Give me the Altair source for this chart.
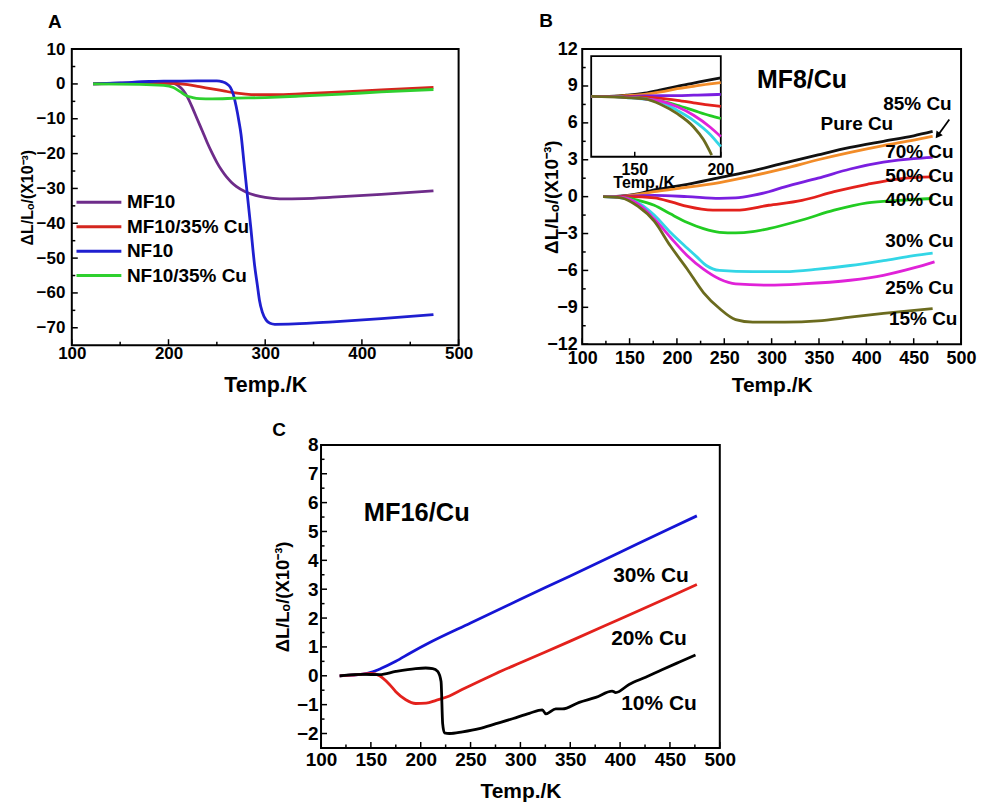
import altair as alt
import pandas as pd

FONT = "Liberation Sans"
YTITLE = "ΔL/Lₒ/(X10⁻³)"
XTITLE = "Temp./K"
LW = 2.8

# ---------------- Panel A data ----------------
a_series = ["MF10", "MF10/35% Cu", "NF10", "NF10/35% Cu"]
a_colors = ["#6E2C8A", "#D4261E", "#1F1FD0", "#2FD02F"]

a_mf10_t = [122, 150, 180, 205, 210, 215, 220, 225, 230, 235, 240, 245, 250, 255, 260, 265, 270, 280, 290, 300, 315, 340, 370, 420, 474]
a_mf10_v = [0, 0.2, 0.3, 0.2, -0.5, -1.8, -4, -7, -10.3, -13.5, -16.8, -19.8, -22.5, -24.8, -26.7, -28.2, -29.4, -31, -32, -32.6, -33, -32.9, -32.5, -31.7, -30.7]

a_mf10cu_t = [122, 180, 205, 220, 232, 245, 257, 267, 280, 295, 310, 340, 380, 420, 474]
a_mf10cu_v = [0, 0.3, 0.2, -0.2, -0.8, -1.4, -2.0, -2.5, -2.9, -3.1, -3.1, -2.8, -2.3, -1.7, -1.0]

a_nf10_t = [122, 150, 180, 200, 230, 250, 256, 260, 264, 267, 270, 273, 275, 278, 281, 285, 289, 292, 294, 297, 301, 305, 310, 330, 370, 420, 474]
a_nf10_v = [0, 0.3, 0.7, 0.8, 0.9, 0.9, 0.6, 0.1, -1, -3, -6.5, -11, -14.5, -22.5, -30.5, -41, -52, -58, -62, -65.5, -67.8, -68.7, -69, -68.9, -68.3, -67.4, -66.2]

a_nf10cu_t = [122, 170, 195, 205, 212, 218, 225, 232, 245, 270, 300, 335, 380, 420, 474]
a_nf10cu_v = [0, -0.1, -0.4, -1, -2.2, -3.3, -3.9, -4.2, -4.3, -4.1, -3.9, -3.5, -2.9, -2.3, -1.6]

# ---------------- Panel B data ----------------
b_series = ["Pure Cu", "85% Cu", "70% Cu", "50% Cu", "40% Cu", "30% Cu", "25% Cu", "15% Cu"]
b_colors = ["#111111", "#F28C28", "#7A1FE0", "#E3211C", "#22CC22", "#33D6E6", "#E022D8", "#6B6B1E"]

b_pure_t = [122, 140, 160, 176, 200, 211, 245, 280, 314, 349, 383, 418, 450, 470]
b_pure_v = [0, 0.05, 0.25, 0.55, 0.85, 1.0, 1.55, 2.1, 2.75, 3.4, 4.0, 4.5, 4.95, 5.3]
b_85_t = [122, 140, 160, 176, 200, 245, 280, 314, 349, 383, 418, 450, 470]
b_85_v = [0, 0.03, 0.2, 0.4, 0.65, 1.15, 1.7, 2.3, 3.0, 3.6, 4.15, 4.6, 4.9]
b_70_t = [122, 150, 176, 211, 245, 262, 280, 297, 314, 349, 383, 418, 450, 470]
b_70_v = [0, 0.05, 0.1, 0.0, -0.14, -0.1, 0.1, 0.4, 0.8, 1.5, 2.25, 2.8, 3.1, 3.2]
b_50_t = [122, 150, 176, 195, 211, 238, 262, 297, 332, 366, 401, 435, 470]
b_50_v = [0, 0.0, -0.1, -0.45, -0.8, -1.1, -1.1, -0.7, -0.3, 0.4, 1.0, 1.45, 1.6]
b_40_t = [122, 140, 159, 176, 193, 211, 228, 245, 262, 280, 297, 332, 366, 401, 435, 470]
b_40_v = [0, -0.05, -0.3, -0.7, -1.4, -2.1, -2.6, -2.9, -2.95, -2.85, -2.6, -1.9, -1.1, -0.5, -0.3, -0.15]
b_30_t = [122, 141, 159, 176, 193, 211, 221, 231, 245, 280, 314, 349, 383, 418, 450, 470]
b_30_v = [0, -0.1, -0.5, -1.5, -2.9, -4.2, -4.9, -5.6, -6.0, -6.1, -6.1, -5.9, -5.6, -5.2, -4.8, -4.6]
b_25_t = [122, 141, 159, 176, 193, 211, 228, 245, 262, 297, 332, 383, 418, 450, 472]
b_25_v = [0, -0.05, -0.6, -1.8, -3.3, -4.8, -5.9, -6.7, -7.1, -7.2, -7.1, -6.8, -6.4, -5.8, -5.3]
b_15_t = [122, 141, 159, 176, 193, 211, 228, 245, 262, 280, 314, 349, 383, 418, 470]
b_15_v = [0, -0.1, -0.8, -2.0, -4.0, -5.9, -7.8, -9.1, -10.0, -10.2, -10.2, -10.1, -9.8, -9.5, -9.1]

# inset of panel B (same series, zoomed 124.7–200 K)
inset_t = [124.7, 135, 145, 155.7, 165.2, 174.7, 184.2, 193.7, 200]
inset_pure = [0, 0.0, 0.03, 0.08, 0.16, 0.25, 0.33, 0.41, 0.46]
inset_85 = [0, 0.0, 0.02, 0.05, 0.11, 0.19, 0.25, 0.31, 0.34]
inset_70 = [0, 0.0, 0.0, 0.01, 0.02, 0.02, 0.03, 0.04, 0.05]
inset_50 = [0, 0.0, -0.01, -0.02, -0.05, -0.1, -0.16, -0.22, -0.25]
inset_40 = [0, 0.0, -0.02, -0.05, -0.12, -0.22, -0.35, -0.48, -0.55]
inset_30 = [0, 0.0, -0.03, -0.07, -0.14, -0.35, -0.6, -0.94, -1.25]
inset_25 = [0, 0.0, -0.02, -0.06, -0.12, -0.26, -0.47, -0.76, -1.0]
inset_15_t = [124.7, 135, 145, 155.7, 165.2, 174.7, 184.2, 190, 194.7]
inset_15 = [0, -0.01, -0.03, -0.06, -0.2, -0.43, -0.76, -1.08, -1.46]
inset_tick_labels = [150, 200]

b_text = ["85% Cu", "Pure Cu", "70% Cu", "50% Cu", "40% Cu", "30% Cu", "25% Cu", "15% Cu"]
b_text_t = [454, 390, 456, 456, 456, 456, 456, 460]
b_text_v = [7.5, 5.9, 3.6, 1.7, -0.3, -3.6, -7.4, -9.95]
b_title_text = ["MF8/Cu"]
b_title_t = [332]
b_title_v = [9.5]
b_arrow_t = [487.6, 476]
b_arrow_v = [6.27, 5.04]

# ---------------- Panel C data ----------------
c_series = ["30% Cu", "20% Cu", "10% Cu"]
c_colors = ["#1515D5", "#E3211C", "#000000"]
c_30_t = [118.7, 130, 142, 150, 160, 175, 190, 210, 250, 300, 350, 400, 450, 477]
c_30_v = [0, 0.02, 0.06, 0.12, 0.25, 0.5, 0.8, 1.17, 1.83, 2.65, 3.46, 4.28, 5.1, 5.54]
c_20_t = [118.7, 130, 142, 150, 158.7, 168.7, 175, 185, 195, 205.4, 215.4, 228.8, 242, 260, 275, 300, 350, 400, 450, 477]
c_20_v = [0, 0.02, 0.06, 0.08, 0.0, -0.3, -0.55, -0.83, -0.96, -0.95, -0.85, -0.7, -0.47, -0.17, 0.07, 0.45, 1.2, 1.97, 2.74, 3.16]
c_10_t = [118.7, 142, 158.7, 175, 195, 205, 212, 217, 220.4, 222, 223.8, 228.8, 242, 258.8, 275.5, 292, 309, 322, 325.5, 335.5, 342, 359, 375.6, 392, 395.6, 409, 425.6, 442, 459, 475.6]
c_10_v = [0, 0.05, 0.04, 0.15, 0.25, 0.27, 0.25, 0.15, -0.2, -1.66, -1.98, -2.0, -1.94, -1.83, -1.66, -1.49, -1.3, -1.18, -1.32, -1.15, -1.15, -0.92, -0.75, -0.53, -0.58, -0.3, -0.05, 0.21, 0.47, 0.72]

c_text = ["30% Cu", "20% Cu", "10% Cu"]
c_text_t = [431, 429, 439]
c_text_v = [3.44, 1.28, -0.98]
c_title_text = ["MF16/Cu"]
c_title_t = [196]
c_title_v = [5.65]


def series_df(pairs, tcol="T", vcol="V"):
    rows = []
    for name, ts, vs in pairs:
        for i, (t, v) in enumerate(zip(ts, vs)):
            rows.append({"S": name, tcol: t, vcol: v, "i": i})
    return pd.DataFrame(rows)


def frange(a, b, step):
    out = []
    x = a
    while x <= b + 1e-9:
        out.append(round(x, 4))
        x += step
    return out


def make_axis(values, title, label_size, title_size, label_pad, title_pad):
    return alt.Axis(values=values, title=title, grid=False, ticks=False, domain=False,
                    labelFont=FONT, labelFontSize=label_size, labelFontWeight="bold",
                    labelColor="black", labelPadding=label_pad,
                    titleFont=FONT, titleFontSize=title_size, titleFontWeight="bold",
                    titleColor="black", titlePadding=title_pad, labelOverlap=False,
                    labelFlush=False)


def tick_layers(xs, ys, xax, yax, xmaj, xmin, ymaj, ymin, H):
    layers = []
    for vals, ln in ((ymaj, 6), (ymin, 3.5)):
        layers.append(alt.Chart(pd.DataFrame({"V": vals})).mark_rule(color="black", strokeWidth=1.5).encode(
            y=alt.Y("V:Q", scale=ys, axis=yax),
            x=alt.value(0), x2=alt.value(ln)))
    for vals, ln in ((xmaj, 6), (xmin, 3.5)):
        layers.append(alt.Chart(pd.DataFrame({"T": vals})).mark_rule(color="black", strokeWidth=1.5).encode(
            x=alt.X("T:Q", scale=xs, axis=xax),
            y=alt.value(H), y2=alt.value(H - ln)))
    return layers


def letter(ch, dx, dy):
    return alt.Chart(pd.DataFrame({"L": [ch]})).mark_text(
        font=FONT, fontSize=19, fontWeight="bold", color="black", align="left", baseline="middle"
    ).encode(text="L:N", x=alt.value(dx), y=alt.value(dy))


# ---------------- Panel A ----------------
AW, AH = 388, 297
a_xs = alt.Scale(domain=[100, 500], nice=False, zero=False)
a_ys = alt.Scale(domain=[-75, 10], nice=False, zero=False)
a_xax = make_axis(frange(100, 500, 100), XTITLE, 17, 21.5, 0, 13)
a_yax = make_axis(frange(-70, 10, 10), YTITLE, 17, 16, 7, 1)
a_cscale = alt.Scale(domain=a_series, range=a_colors)

a_df = series_df([
    (a_series[0], a_mf10_t, a_mf10_v),
    (a_series[1], a_mf10cu_t, a_mf10cu_v),
    (a_series[2], a_nf10_t, a_nf10_v),
    (a_series[3], a_nf10cu_t, a_nf10cu_v),
])
a_lines = alt.Chart(a_df).mark_line(strokeWidth=LW, interpolate="monotone").encode(
    x=alt.X("T:Q", scale=a_xs, axis=a_xax),
    y=alt.Y("V:Q", scale=a_ys, axis=a_yax),
    color=alt.Color("S:N", scale=a_cscale, legend=None),
    order="i:Q",
)
a_main = alt.layer(
    a_lines,
    *tick_layers(a_xs, a_ys, a_xax, a_yax, frange(100, 500, 100), frange(150, 450, 100),
                 frange(-70, 10, 10), frange(-65, 5, 10), AH),
    letter("A", -24, -27),
)
# legend drawn with its own point scale (rows inside the plot, left side)
a_leg_df = pd.DataFrame({"S": a_series})
a_leg_y = alt.Y("S:N", scale=alt.Scale(type="point", domain=a_series, range=[153.7, 227.2], padding=0),
                axis=None)
a_leg_lines = alt.Chart(a_leg_df).mark_rule(strokeWidth=3).encode(
    y=a_leg_y, x=alt.value(4.7), x2=alt.value(49.7),
    color=alt.Color("S:N", scale=a_cscale, legend=None))
a_leg_text = alt.Chart(a_leg_df).mark_text(
    align="left", baseline="middle", font=FONT, fontSize=19, fontWeight="bold", color="black").encode(
    y=a_leg_y, x=alt.value(55.3), text="S:N")
a_legend = alt.layer(a_leg_lines, a_leg_text)
panel_a = alt.layer(a_main, a_legend).resolve_scale(y="independent").properties(width=AW, height=AH)

# ---------------- Panel B ----------------
BW, BH = 380, 296
b_xs = alt.Scale(domain=[100, 500], nice=False, zero=False)
b_ys = alt.Scale(domain=[-12, 12], nice=False, zero=False)
b_xax = make_axis(frange(100, 500, 50), XTITLE, 18, 21, 5.8, 7)
b_yax = make_axis(frange(-12, 12, 3), YTITLE, 18, 19, 5, -15)
b_color = alt.Color("S:N", scale=alt.Scale(domain=b_series, range=b_colors), legend=None)

b_df = series_df([
    (b_series[0], b_pure_t, b_pure_v),
    (b_series[1], b_85_t, b_85_v),
    (b_series[2], b_70_t, b_70_v),
    (b_series[3], b_50_t, b_50_v),
    (b_series[4], b_40_t, b_40_v),
    (b_series[5], b_30_t, b_30_v),
    (b_series[6], b_25_t, b_25_v),
    (b_series[7], b_15_t, b_15_v),
])
b_lines = alt.Chart(b_df).mark_line(strokeWidth=LW, interpolate="monotone").encode(
    x=alt.X("T:Q", scale=b_xs, axis=b_xax),
    y=alt.Y("V:Q", scale=b_ys, axis=b_yax),
    color=b_color, order="i:Q")
b_labels = alt.Chart(pd.DataFrame({"T": b_text_t, "V": b_text_v, "L": b_text})).mark_text(
    font=FONT, fontSize=19, fontWeight="bold", color="black").encode(
    x=alt.X("T:Q", scale=b_xs, axis=b_xax), y=alt.Y("V:Q", scale=b_ys, axis=b_yax), text="L:N")
b_title = alt.Chart(pd.DataFrame({"T": b_title_t, "V": b_title_v, "L": b_title_text})).mark_text(
    font=FONT, fontSize=25, fontWeight="bold", color="black").encode(
    x=alt.X("T:Q", scale=b_xs, axis=b_xax), y=alt.Y("V:Q", scale=b_ys, axis=b_yax), text="L:N")
arrow_df = pd.DataFrame({"T": b_arrow_t, "V": b_arrow_v, "i": [0, 1]})
b_arrow = alt.Chart(arrow_df).mark_line(color="black", strokeWidth=1.8).encode(
    x=alt.X("T:Q", scale=b_xs, axis=b_xax), y=alt.Y("V:Q", scale=b_ys, axis=b_yax), order="i:Q")
b_head = alt.Chart(arrow_df.iloc[[1]]).mark_point(shape="triangle", filled=True, size=60, angle=216,
                                                  color="black", opacity=1).encode(
    x=alt.X("T:Q", scale=b_xs, axis=b_xax), y=alt.Y("V:Q", scale=b_ys, axis=b_yax))

b_main = alt.layer(
    b_lines, b_labels, b_title, b_arrow, b_head,
    *tick_layers(b_xs, b_ys, b_xax, b_yax, frange(100, 500, 50), frange(125, 475, 50),
                 frange(-12, 12, 3), frange(-10.5, 10.5, 3), BH),
    letter("B", -43, -28),
)

# inset
i_xs = alt.Scale(domain=[124.7, 200], range=[9, 139], nice=False, zero=False)
i_ys = alt.Scale(domain=[-1.5, 1.0], range=[108, 7], nice=False, zero=False)
i_df = series_df([
    (b_series[0], inset_t, inset_pure),
    (b_series[1], inset_t, inset_85),
    (b_series[2], inset_t, inset_70),
    (b_series[3], inset_t, inset_50),
    (b_series[4], inset_t, inset_40),
    (b_series[5], inset_t, inset_30),
    (b_series[6], inset_t, inset_25),
    (b_series[7], inset_15_t, inset_15),
], tcol="Ti", vcol="Vi")
i_frame = alt.Chart(pd.DataFrame({"Ti": [124.7], "Ti2": [200], "Vi": [-1.5], "Vi2": [1.0]})).mark_rect(
    fill="white", stroke="black", strokeWidth=1.8).encode(
    x=alt.X("Ti:Q", scale=i_xs, axis=None), x2="Ti2:Q",
    y=alt.Y("Vi:Q", scale=i_ys, axis=None), y2="Vi2:Q")
i_lines = alt.Chart(i_df).mark_line(strokeWidth=LW, interpolate="monotone").encode(
    x=alt.X("Ti:Q", scale=i_xs, axis=None),
    y=alt.Y("Vi:Q", scale=i_ys, axis=None),
    color=b_color, order="i:Q")
i_ticklab = alt.Chart(pd.DataFrame({"Ti": inset_tick_labels})).mark_text(
    font=FONT, fontSize=16, fontWeight="bold", color="black", baseline="middle").encode(
    x=alt.X("Ti:Q", scale=i_xs, axis=None), y=alt.value(121), text=alt.Text("Ti:Q", format="d"))
i_ticks = alt.Chart(pd.DataFrame({"Ti": inset_tick_labels})).mark_rule(color="black", strokeWidth=1.5).encode(
    x=alt.X("Ti:Q", scale=i_xs, axis=None), y=alt.value(108), y2=alt.value(103))
i_title = alt.Chart(pd.DataFrame({"Ti": [155.5], "L": [XTITLE]})).mark_text(
    font=FONT, fontSize=16, fontWeight="bold", color="black", baseline="middle").encode(
    x=alt.X("Ti:Q", scale=i_xs, axis=None), y=alt.value(134), text="L:N")
b_inset = alt.layer(i_frame, i_lines, i_ticks, i_ticklab, i_title)

panel_b = alt.layer(b_main, b_inset).resolve_scale(x="independent", y="independent").properties(
    width=BW, height=BH)

# ---------------- Panel C ----------------
CW, CH = 400, 304
c_xs = alt.Scale(domain=[100, 500], nice=False, zero=False)
c_ys = alt.Scale(domain=[-2.5, 8], nice=False, zero=False)
c_xax = make_axis(frange(100, 500, 50), XTITLE, 19, 21, 2.3, 11.6)
c_yax = make_axis(frange(-2, 8, 1), YTITLE, 19, 18.5, 3, 4)
c_df = series_df([
    (c_series[0], c_30_t, c_30_v),
    (c_series[1], c_20_t, c_20_v),
    (c_series[2], c_10_t, c_10_v),
])
c_lines = alt.Chart(c_df).mark_line(strokeWidth=LW, interpolate="monotone").encode(
    x=alt.X("T:Q", scale=c_xs, axis=c_xax),
    y=alt.Y("V:Q", scale=c_ys, axis=c_yax),
    color=alt.Color("S:N", scale=alt.Scale(domain=c_series, range=c_colors), legend=None),
    order="i:Q")
c_labels = alt.Chart(pd.DataFrame({"T": c_text_t, "V": c_text_v, "L": c_text})).mark_text(
    font=FONT, fontSize=21, fontWeight="bold", color="black").encode(
    x=alt.X("T:Q", scale=c_xs, axis=c_xax), y=alt.Y("V:Q", scale=c_ys, axis=c_yax), text="L:N")
c_title = alt.Chart(pd.DataFrame({"T": c_title_t, "V": c_title_v, "L": c_title_text})).mark_text(
    font=FONT, fontSize=25.5, fontWeight="bold", color="black").encode(
    x=alt.X("T:Q", scale=c_xs, axis=c_xax), y=alt.Y("V:Q", scale=c_ys, axis=c_yax), text="L:N")
panel_c = alt.layer(
    c_lines, c_labels, c_title,
    *tick_layers(c_xs, c_ys, c_xax, c_yax, frange(100, 500, 50), frange(125, 475, 50),
                 frange(-2, 8, 1), frange(-1.5, 7.5, 1), CH),
    letter("C", -49, -15),
).properties(width=CW, height=CH)

# invisible spacer so panel C sits under the middle of the two top panels
spacer = alt.Chart(pd.DataFrame({"z": [0]})).mark_point(opacity=0, size=1).encode(
    x=alt.value(10), y=alt.value(0)).properties(width=199, height=1,
                                                 view=alt.ViewConfig(stroke="transparent"))

top = alt.hconcat(panel_a, panel_b, spacing=64).resolve_scale(color="independent")
bottom = alt.hconcat(spacer, panel_c, spacing=0).resolve_scale(color="independent")
chart = alt.vconcat(top, bottom, spacing=23).resolve_scale(color="independent").configure_view(
    stroke="black", strokeWidth=2).properties(
    padding={"left": 10, "top": 2, "right": 0, "bottom": 0}, background="white")

chart.save("out.html", embed_options={"renderer": "svg", "actions": False})
